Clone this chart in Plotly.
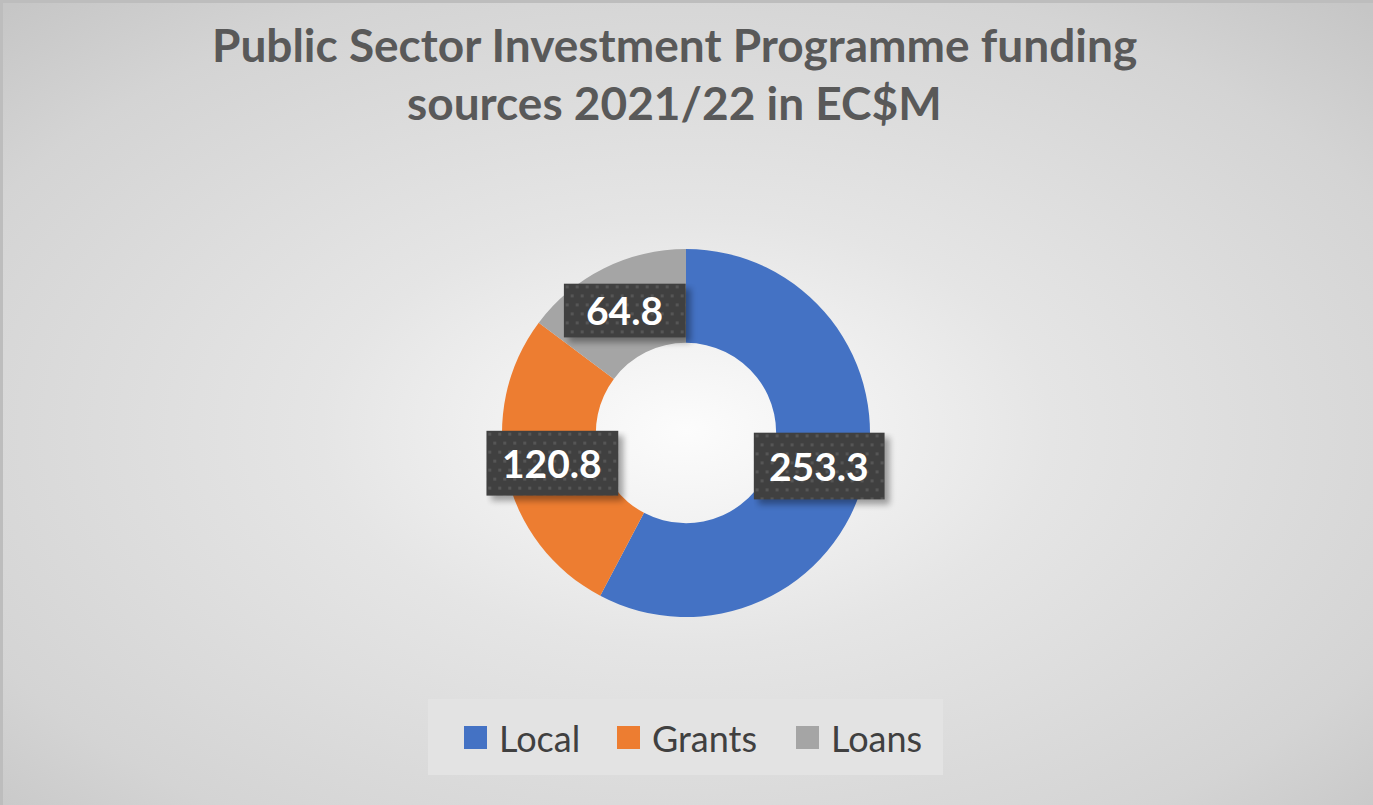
import base64
import math
import plotly.graph_objects as go

# ---- data ----
categories = ["Local", "Grants", "Loans"]
values = [253.3, 120.8, 64.8]
value_labels = ["253.3", "120.8", "64.8"]
colors = ["#4472C4", "#ED7D31", "#A5A5A5"]
title_lines = ["Public Sector Investment Programme funding", "sources 2021/22 in EC$M"]

# ---- layout constants (pixels) ----
W, H = 1373, 805
CX, CY = 686, 433
R = 184
HOLE = 0.49
LABEL_BOX = [(131, 67), (132, 65), (122, 54)]
TITLE_Y = [45, 102]
FONT = "Lato"


def svg_uri(svg):
    return "data:image/svg+xml;base64," + base64.b64encode(svg.encode()).decode()


fig = go.Figure(
    go.Pie(
        labels=categories,
        values=values,
        sort=False,
        direction="clockwise",
        rotation=0,
        hole=HOLE,
        marker=dict(colors=colors, line=dict(width=0)),
        textinfo="none",
        showlegend=False,
        domain=dict(x=[(CX - R) / W, (CX + R) / W], y=[1 - (CY + R) / H, 1 - (CY - R) / H]),
    )
)

images = []
annotations = []
shapes = []

# background radial gradient
bg_svg = (
    f'<svg xmlns="http://www.w3.org/2000/svg" width="{W}" height="{H}" viewBox="0 0 {W} {H}" preserveAspectRatio="none">'
    '<defs><radialGradient id="g" cx="0.5" cy="0.535" r="0.72">'
    '<stop offset="0" stop-color="#fcfcfc"/>'
    '<stop offset="0.37" stop-color="#e5e5e5"/>'
    '<stop offset="0.8" stop-color="#d4d4d4"/>'
    '<stop offset="1" stop-color="#c6c6c6"/>'
    '</radialGradient></defs>'
    f'<rect x="0" y="0" width="{W}" height="{H}" fill="url(#g)"/></svg>'
)
images.append(dict(source=svg_uri(bg_svg), xref="paper", yref="paper", x=0, y=1,
                   sizex=1, sizey=1, sizing="stretch", xanchor="left", yanchor="top", layer="below"))

# data labels placed at mid-ring, mid-angle of each slice
total = sum(values)
r_mid = R * (1 + HOLE) / 2
cum = 0.0
for val, lab, (bw, bh) in zip(values, value_labels, LABEL_BOX):
    mid = (cum + val / 2) / total * 2 * math.pi
    cum += val
    px = CX + r_mid * math.sin(mid)
    py = CY - r_mid * math.cos(mid)
    pad = 14
    box_svg = (
        f'<svg xmlns="http://www.w3.org/2000/svg" width="{bw + pad}" height="{bh + pad}">'
        '<defs><pattern id="p" width="10" height="18" patternUnits="userSpaceOnUse">'
        '<rect width="10" height="18" fill="#404040"/>'
        '<rect x="2" y="2" width="3" height="3" fill="#565656"/>'
        '<rect x="7" y="11" width="3" height="3" fill="#565656"/>'
        '</pattern><filter id="f" x="-20%" y="-20%" width="140%" height="140%">'
        '<feGaussianBlur stdDeviation="3"/></filter></defs>'
        f'<rect x="5" y="5" width="{bw}" height="{bh}" fill="#000" opacity="0.35" filter="url(#f)"/>'
        f'<rect x="0" y="0" width="{bw}" height="{bh}" fill="url(#p)"/></svg>'
    )
    images.append(dict(source=svg_uri(box_svg), xref="paper", yref="paper",
                       x=(px - bw / 2) / W, y=1 - (py - bh / 2) / H,
                       sizex=(bw + pad) / W, sizey=(bh + pad) / H,
                       sizing="stretch", xanchor="left", yanchor="top", layer="above"))
    annotations.append(dict(text=f"<b>{lab}</b>", x=px / W, y=1 - py / H, xref="paper", yref="paper",
                            showarrow=False, xanchor="center", yanchor="middle",
                            font=dict(family=FONT, size=39, color="#ffffff")))

# title (two lines)
for line, ty in zip(title_lines, TITLE_Y):
    annotations.append(dict(text=f"<b>{line}</b>", x=674 / W, y=1 - ty / H, xref="paper", yref="paper",
                            showarrow=False, xanchor="center", yanchor="middle",
                            font=dict(family=FONT, size=46, color="#595959")))

# custom legend
shapes.append(dict(type="rect", xref="paper", yref="paper", x0=428 / W, x1=943 / W,
                   y0=1 - 775 / H, y1=1 - 699 / H, fillcolor="#e3e3e3", line=dict(width=0), layer="below"))
leg_sq_x = [464, 617, 796]
for cat, col, sx in zip(categories, colors, leg_sq_x):
    shapes.append(dict(type="rect", xref="paper", yref="paper", x0=sx / W, x1=(sx + 23) / W,
                       y0=1 - 749 / H, y1=1 - 726 / H, fillcolor=col, line=dict(width=0)))
    annotations.append(dict(text=cat, x=(sx + 33) / W, y=1 - 738 / H, xref="paper", yref="paper",
                            showarrow=False, xanchor="left", yanchor="middle",
                            font=dict(family=FONT, size=36, color="#404040")))

# chart border edges
shapes.append(dict(type="line", xref="paper", yref="paper", x0=0, x1=1, y0=1 - 1.5 / H, y1=1 - 1.5 / H,
                   line=dict(color="#bdbdbd", width=3)))
shapes.append(dict(type="line", xref="paper", yref="paper", x0=1.5 / W, x1=1.5 / W, y0=0, y1=1,
                   line=dict(color="#bdbdbd", width=3)))

fig.update_layout(
    width=W, height=H,
    margin=dict(l=0, r=0, t=0, b=0),
    paper_bgcolor="#d9d9d9",
    plot_bgcolor="rgba(0,0,0,0)",
    images=images,
    annotations=annotations,
    shapes=shapes,
    showlegend=False,
)

fig.write_html("out.html", config={"displayModeBar": False},
               post_script="document.body.style.margin='0';")
